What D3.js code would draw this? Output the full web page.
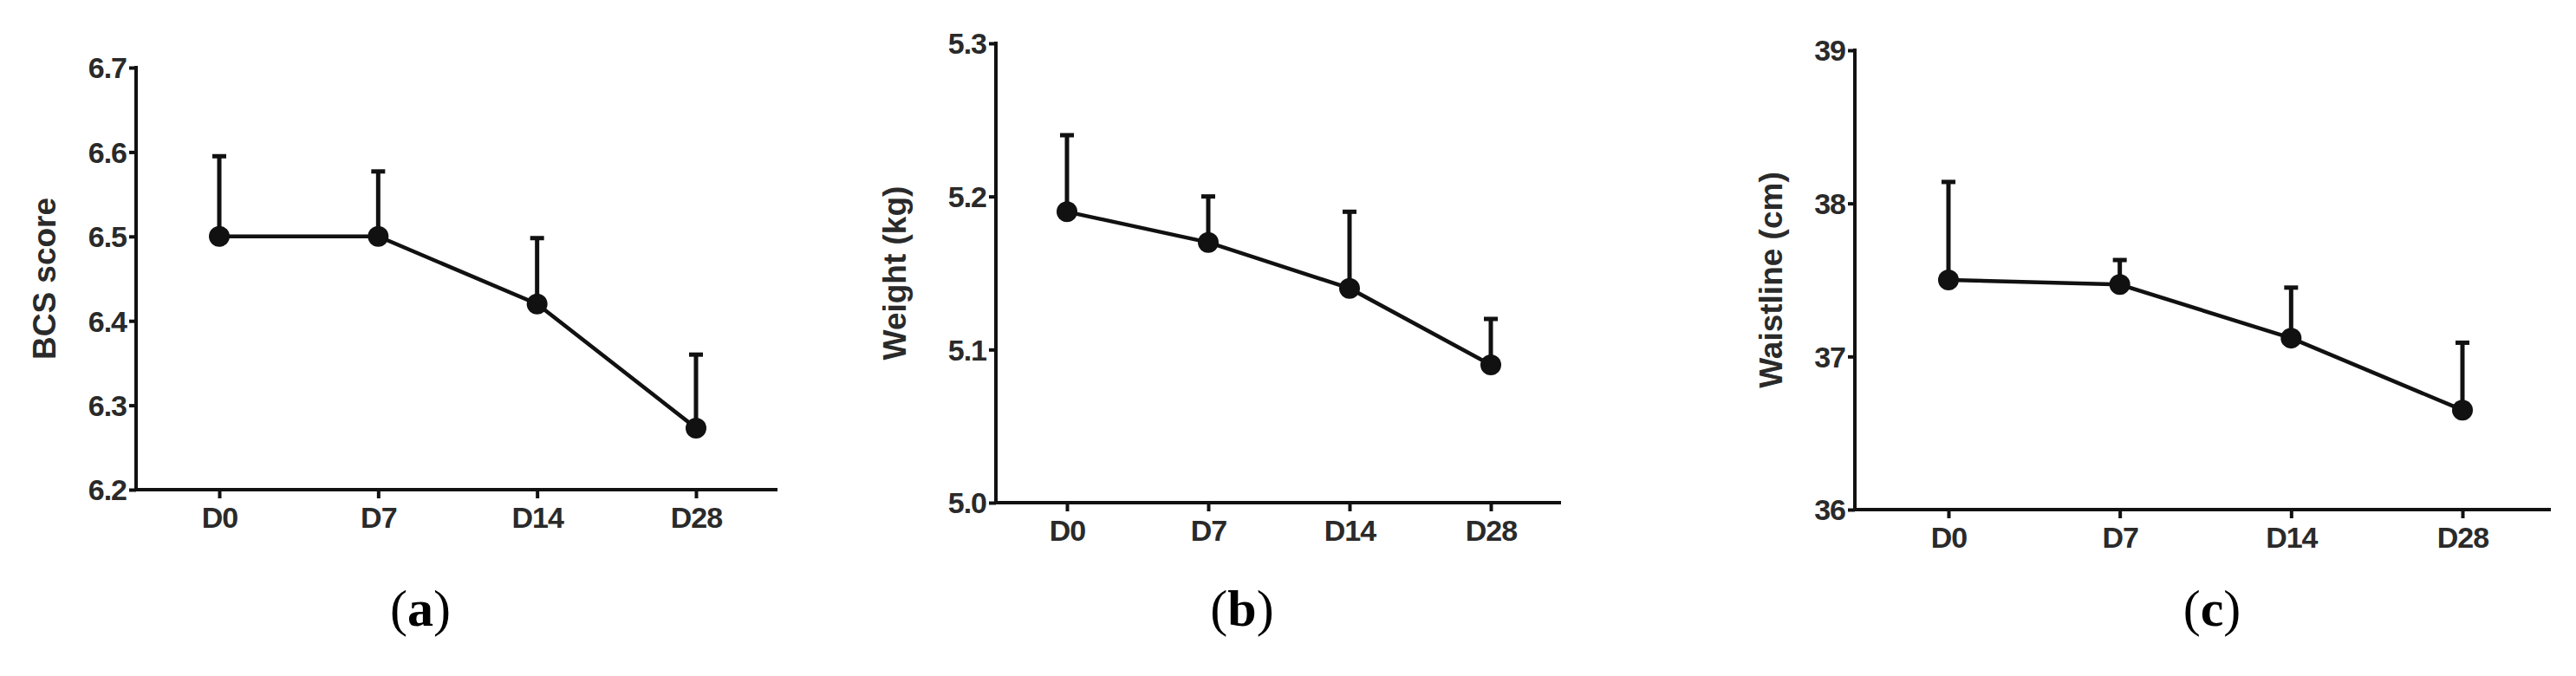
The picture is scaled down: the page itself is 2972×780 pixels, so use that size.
<!DOCTYPE html>
<html><head><meta charset="utf-8">
<script src="https://cdn.jsdelivr.net/npm/d3@7"></script>
<style>body{margin:0;background:#fff}</style></head>
<body><svg id="c" width="2972" height="780"></svg>
<script>
const categories = ["D0","D7","D14","D28"];
const bcsMean = [6.5, 6.5, 6.42, 6.273];
const bcsUpper = [6.595, 6.577, 6.498, 6.36];
const weightMean = [5.19, 5.17, 5.14, 5.09];
const weightUpper = [5.24, 5.20, 5.19, 5.12];
const waistMean = [37.5, 37.47, 37.12, 36.65];
const waistUpper = [38.14, 37.63, 37.45, 37.09];
const bcsTicks = [6.2, 6.3, 6.4, 6.5, 6.6, 6.7];
const weightTicks = [5.0, 5.1, 5.2, 5.3];
const waistTicks = [36, 37, 38, 39];

const panels = [
  {mean:bcsMean, up:bcsUpper, ticks:bcsTicks, dom:[6.2,6.7], fmt:d3.format(".1f"), title:"BCS score", tag:"a",
   ax:157, xe:897, yt:78, yb:565, x0:253, x3:803, ly:51, tagX:485},
  {mean:weightMean, up:weightUpper, ticks:weightTicks, dom:[5.0,5.3], fmt:d3.format(".1f"), title:"Weight (kg)", tag:"b",
   ax:1149, xe:1801, yt:50, yb:580, x0:1231, x3:1720, ly:1032, tagX:1433},
  {mean:waistMean, up:waistUpper, ticks:waistTicks, dom:[36,39], fmt:d3.format("d"), title:"Waistline (cm)", tag:"c",
   ax:2140, xe:2943, yt:58, yb:588, x0:2248, x3:2841, ly:2043, tagX:2552}
];
const svg = d3.select("#c");
const col = "#111";
panels.forEach(p => {
  const g = svg.append("g");
  const y = d3.scaleLinear().domain(p.dom).range([p.yb, p.yt]);
  const x = d3.scalePoint().domain(categories).range([p.x0, p.x3]);
  const ya = g.append("g").attr("transform", `translate(${p.ax},0)`)
    .call(d3.axisLeft(y).tickValues(p.ticks).tickFormat(p.fmt).tickSize(8).tickPadding(3));
  ya.select(".domain").remove();
  g.append("line").attr("x1",p.ax).attr("x2",p.ax).attr("y1",p.yt-2).attr("y2",p.yb+2)
    .attr("stroke",col).attr("stroke-width",4);
  const xa = g.append("g").attr("transform", `translate(0,${p.yb})`)
    .call(d3.axisBottom(x).tickSize(10).tickPadding(10));
  xa.select(".domain").remove();
  g.append("line").attr("x1",p.ax-2).attr("x2",p.xe).attr("y1",p.yb).attr("y2",p.yb)
    .attr("stroke",col).attr("stroke-width",4);
  [ya, xa].forEach(a => {
    a.selectAll("line").attr("stroke",col).attr("stroke-width",4);
    a.selectAll("text").attr("fill","#2a2a2a").style("font-family","Liberation Sans, Arial, sans-serif")
      .style("font-size","34px").style("font-weight","bold").style("letter-spacing","-1px");
  });
  ya.selectAll("text").attr("dy","0.35em");
  categories.forEach((c,i) => {
    g.append("line").attr("x1",x(c)).attr("x2",x(c)).attr("y1",y(p.mean[i])).attr("y2",y(p.up[i]))
      .attr("stroke",col).attr("stroke-width",5);
    g.append("line").attr("x1",x(c)-8).attr("x2",x(c)+8).attr("y1",y(p.up[i])).attr("y2",y(p.up[i]))
      .attr("stroke",col).attr("stroke-width",5);
  });
  g.append("path").datum(p.mean)
    .attr("d", d3.line().x((d,i)=>x(categories[i])).y(d=>y(d)))
    .attr("fill","none").attr("stroke",col).attr("stroke-width",4.5);
  g.selectAll("circle.m").data(p.mean).enter().append("circle")
    .attr("cx",(d,i)=>x(categories[i])).attr("cy",d=>y(d)).attr("r",12).attr("fill",col);
  g.append("text").attr("transform",`translate(${p.ly},${(p.yt+p.yb)/2}) rotate(-90)`)
    .attr("text-anchor","middle").attr("dy","0.35em").attr("fill","#2a2a2a")
    .style("font-family","Liberation Sans, Arial, sans-serif").style("font-size","37px").style("font-weight","bold")
    .text(p.title);
  const t = g.append("text").attr("x",p.tagX).attr("y",722).attr("text-anchor","middle")
    .style("font-family","Liberation Serif, serif").style("font-size","60px").attr("fill","#000");
  t.append("tspan").text("(");
  t.append("tspan").style("font-weight","bold").text(p.tag);
  t.append("tspan").text(")");
});
</script></body></html>
